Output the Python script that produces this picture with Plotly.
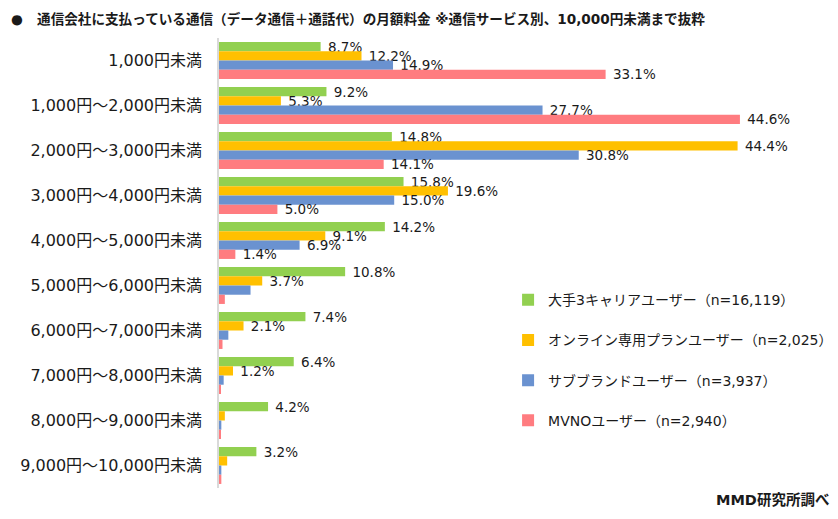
import plotly.graph_objects as go

categories = ["1,000円未満", "1,000円～2,000円未満", "2,000円～3,000円未満", "3,000円～4,000円未満",
              "4,000円～5,000円未満", "5,000円～6,000円未満", "6,000円～7,000円未満",
              "7,000円～8,000円未満", "8,000円～9,000円未満", "9,000円～10,000円未満"]

series_names = ["大手3キャリアユーザー（n=16,119）", "オンライン専用プランユーザー（n=2,025）",
                "サブブランドユーザー（n=3,937）", "MVNOユーザー（n=2,940）"]

carrier3 = [8.7, 9.2, 14.8, 15.8, 14.2, 10.8, 7.4, 6.4, 4.2, 3.2]
online = [12.2, 5.3, 44.4, 19.6, 9.1, 3.7, 2.1, 1.2, 0.5, 0.7]
subbrand = [14.9, 27.7, 30.8, 15.0, 6.9, 2.7, 0.8, 0.4, 0.2, 0.2]
mvno = [33.1, 44.6, 14.1, 5.0, 1.4, 0.5, 0.3, 0.1, 0.1, 0.2]

# number of leading bars that carry a data label in the reference
labeled_counts = [10, 8, 5, 5]

colors = ["#92d050", "#ffc000", "#6a92d0", "#ff7c80"]
FONT = "DejaVu Sans, Noto Sans CJK JP"
TXT = "#1a1a1a"

# the page body has an 8px margin, so the figure is sized to fill the rest of the window
W, H = 830, 511

fig = go.Figure()
for name, vals, color, nlab in zip(series_names, [carrier3, online, subbrand, mvno], colors, labeled_counts):
    texts = ["\u00a0" + f"{v:.1f}%" if i < nlab else "" for i, v in enumerate(vals)]
    fig.add_trace(go.Bar(
        y=categories, x=vals, orientation="h", name=name,
        marker=dict(color=color, line=dict(width=0)),
        text=texts, textposition="outside", cliponaxis=False,
        constraintext="none",
        textfont=dict(size=13.5, color=TXT, family=FONT),
        legendgroup=name,
    ))

fig.update_layout(
    width=W, height=H,
    margin=dict(l=211, r=35, t=30, b=31, autoexpand=False),
    paper_bgcolor="white", plot_bgcolor="white",
    barmode="group", bargap=0.18, bargroupgap=0,
    font=dict(family=FONT, size=13.5, color=TXT),
    showlegend=True,
    legend=dict(x=0.495, y=0.453, xanchor="left", yanchor="top",
                font=dict(size=14, color=TXT, family=FONT),
                traceorder="grouped", tracegroupgap=19,
                bgcolor="rgba(0,0,0,0)"),
    title=dict(text="<b>●\u00a0\u00a0\u00a0通信会社に支払っている通信（データ通信＋通話代）の月額料金 ※通信サービス別、10,000円未満まで抜粋</b>",
               x=3/W, xanchor="left", xref="container",
               y=1-11/H, yanchor="middle", yref="container",
               font=dict(size=13.6, color=TXT, family=FONT)),
)
fig.update_xaxes(range=[0, 50], visible=False, showgrid=False, zeroline=False)
fig.update_yaxes(autorange="reversed", showline=True, linecolor="#d9d9d9", linewidth=1.5,
                 ticks="", ticklabelstandoff=12, showgrid=False, automargin=False,
                 tickfont=dict(size=16, color=TXT, family=FONT))

fig.add_annotation(text="<b>MMD研究所調べ</b>", xref="paper", yref="paper",
                   x=(831 - 219) / 584, y=(488 - 500) / 450, xanchor="right", yanchor="middle",
                   showarrow=False, font=dict(size=14.5, color=TXT, family=FONT))

fig.write_html("out.html")
